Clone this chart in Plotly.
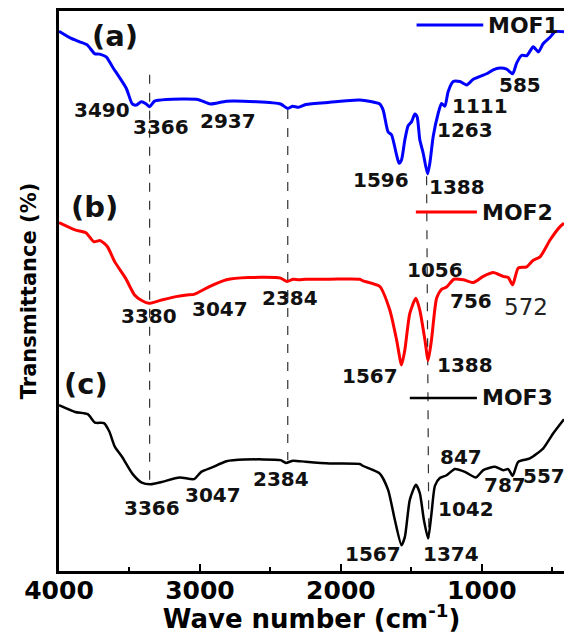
import plotly.graph_objects as go

# ---------------- data ----------------
mof1_wn = [4000, 3913, 3854, 3798, 3748, 3712, 3665, 3620, 3523, 3480, 3452, 3416, 3381, 3357, 3322,
           3239, 3016, 2927, 2812, 2600, 2428, 2377, 2342, 2300, 2249, 2079, 1866, 1724, 1700, 1665,
           1641, 1605, 1587, 1570, 1546, 1523, 1499, 1475, 1459, 1440, 1416, 1385, 1369, 1345, 1310,
           1286, 1262, 1239, 1203, 1156, 1108, 1061, 966, 919, 871, 824, 781, 753, 717, 682, 635,
           599, 564, 516, 481, 417]
mof1_t = [96.4, 95.1, 94.5, 93.9, 92.4, 92.3, 91.8, 90.0, 86.2, 83.4, 83.2, 83.8, 83.4, 82.9, 83.9,
          84.2, 84.2, 83.4, 83.9, 83.8, 83.4, 82.6, 83.0, 82.8, 83.3, 83.7, 84.1, 83.4, 82.3, 78.4,
          77.9, 74.3, 72.8, 73.4, 77.0, 79.5, 80.2, 81.6, 81.1, 77.0, 74.6, 70.9, 72.8, 77.6, 81.7,
          83.5, 83.0, 85.6, 87.4, 87.4, 86.8, 87.8, 88.8, 89.5, 89.8, 89.6, 88.8, 90.7, 92.1, 92.0, 93.6,
          92.7, 94.2, 95.3, 96.3, 96.3]

mof2_wn = [4000, 3886, 3809, 3753, 3707, 3656, 3604, 3528, 3464, 3413, 3362, 3272, 3170, 3093, 3042,
           2940, 2812, 2658, 2428, 2382, 2339, 2300, 2249, 2079, 1866, 1842, 1724, 1653, 1605, 1570,
           1546, 1511, 1468, 1440, 1404, 1381, 1357, 1321, 1286, 1250, 1198, 1132, 1061, 990, 919,
           848, 813, 781, 742, 682, 635, 587, 516, 445, 417]
mof2_t = [62.2, 60.9, 60.4, 58.8, 59.0, 57.9, 55.2, 52.3, 49.3, 48.3, 47.8, 48.4, 49.0, 49.3, 49.4,
          50.7, 52.0, 52.4, 52.3, 51.7, 52.1, 52.0, 52.1, 52.1, 52.1, 51.8, 50.8, 46.6, 41.3, 36.8,
          39.5, 46.0, 48.7, 46.6, 41.3, 37.6, 41.3, 48.7, 50.3, 50.7, 52.1, 52.0, 51.5, 52.6, 53.3,
          52.6, 52.4, 51.1, 54.1, 54.3, 55.5, 56.1, 59.1, 61.5, 62.1]

mof3_wn = [4000, 3886, 3796, 3745, 3681, 3643, 3604, 3553, 3477, 3413, 3349, 3272, 3144, 3042, 2991,
           2914, 2812, 2684, 2428, 2390, 2339, 2249, 2079, 1866, 1842, 1724, 1665, 1617, 1570, 1546,
           1511, 1468, 1440, 1411, 1381, 1357, 1333, 1298, 1250, 1191, 1120, 1042, 990, 907, 848,
           813, 781, 742, 659, 564, 493, 417]
mof3_t = [29.6, 28.4, 28.0, 26.5, 26.4, 24.9, 22.2, 20.4, 17.3, 15.8, 15.5, 15.9, 16.7, 16.4, 17.7,
          18.5, 19.6, 19.9, 19.8, 19.3, 19.7, 19.5, 19.2, 19.1, 18.75, 17.4, 14.5, 9.1, 4.6, 6.1,
          12.7, 15.4, 13.9, 9.1, 5.8, 10.3, 15.2, 16.6, 17.1, 18.2, 17.7, 16.7, 18.0, 18.6, 18.0,
          18.2, 17.0, 19.5, 20.1, 21.9, 24.6, 27.1]

series_names = ["MOF1", "MOF2", "MOF3"]
series_colors = ["#0000ff", "#ff0000", "#000000"]
series_widths = [3, 3, 2.5]

# peak labels: (text, wavenumber position, transmittance position)
peak_text = ["3490", "3366", "2937", "1596", "1388", "1263", "1111", "585",
             "3380", "3047", "2384", "1056", "756", "1567", "1388",
             "3366", "3047", "2384", "847", "787", "557", "1042", "1567", "1374"]
peak_x = [3695, 3279, 2800, 1713, 1179, 1120, 1014, 726,
          3364, 2860, 2359, 1333, 1074, 1795, 1120,
          3343, 2910, 2423, 1145, 838, 560, 1112, 1770, 1220]
peak_y = [82.3, 79.3, 80.4, 69.9, 68.5, 78.75, 83.0, 86.7,
          45.5, 46.7, 48.8, 53.75, 48.3, 34.9, 36.7,
          11.3, 13.5, 16.5, 20.4, 15.3, 16.9, 11.0, 3.1, 3.1]
# the one label drawn in a regular (non-bold) face
light_text = "572"
light_x, light_y = 687, 47.2

panel_text = ["(a)", "(b)", "(c)"]
panel_x = [3606, 3748, 3805]
panel_y = [95.5, 65.0, 33.4]

# dashed guide lines: (x top, y top, x bottom, y bottom)
guide_x0 = [3357, 2377, 1392]
guide_y0 = [88.6, 82.3, 70.5]
guide_x1 = [3357, 2377, 1376]
guide_y1 = [15.5, 19.8, 5.9]

# legend sample placement (wavenumber start/end of sample line, height)
leg_x0 = [1463, 1468, 1511]
leg_x1 = [990, 1035, 1035]
leg_y = [97.5, 64.1, 30.9]

x_ticks = [4000, 3000, 2000, 1000]
x_minor = [3500, 2500, 1500, 500]

FONT = "DejaVu Sans"

fig = go.Figure()
for wn, t, name, col, w in zip([mof1_wn, mof2_wn, mof3_wn], [mof1_t, mof2_t, mof3_t],
                              series_names, series_colors, series_widths):
    fig.add_trace(go.Scatter(x=wn, y=t, mode="lines", name=name,
                             line=dict(color=col, width=w, shape="spline", smoothing=0.6),
                             showlegend=False))

shapes = []
for x0, y0, x1, y1 in zip(guide_x0, guide_y0, guide_x1, guide_y1):
    shapes.append(dict(type="line", xref="x", yref="y", x0=x0, y0=y0, x1=x1, y1=y1,
                       line=dict(color="#333333", width=1.2, dash="dash"), layer="below"))
for x0, x1, y, col, w in zip(leg_x0, leg_x1, leg_y, series_colors, series_widths):
    shapes.append(dict(type="line", xref="x", yref="y", x0=x0, y0=y, x1=x1, y1=y,
                       line=dict(color=col, width=w)))

annotations = []
for txt, x, y in zip(peak_text, peak_x, peak_y):
    annotations.append(dict(text=txt, x=x, y=y, xref="x", yref="y", showarrow=False,
                            xanchor="center", yanchor="middle",
                            font=dict(family=FONT, size=20, color="#111111", weight="bold")))
annotations.append(dict(text=light_text, x=light_x, y=light_y, xref="x", yref="y", showarrow=False,
                        xanchor="center", yanchor="middle",
                        font=dict(family=FONT, size=23, color="#222222")))
for txt, x, y in zip(panel_text, panel_x, panel_y):
    annotations.append(dict(text=txt, x=x, y=y, xref="x", yref="y", showarrow=False,
                            xanchor="center", yanchor="middle",
                            font=dict(family=FONT, size=29, color="#111111", weight="bold")))
for name, x1, y in zip(series_names, leg_x1, leg_y):
    annotations.append(dict(text=name, x=x1, y=y, xref="x", yref="y", showarrow=False,
                            xanchor="left", yanchor="middle", xshift=3,
                            font=dict(family=FONT, size=22, color="#111111", weight="bold")))

fig.update_layout(
    width=564, height=634,
    margin=dict(l=59, r=0, t=11, b=63, autoexpand=False),
    paper_bgcolor="white", plot_bgcolor="white",
    shapes=shapes, annotations=annotations,
    showlegend=False,
    xaxis=dict(range=[4000, 417], tickvals=x_ticks, ticktext=[str(v) for v in x_ticks],
               ticks="inside", ticklen=7, tickwidth=2, tickcolor="black",
               ticklabelstandoff=-5,
               minor=dict(tickvals=x_minor, ticks="inside", ticklen=4, tickwidth=2, tickcolor="black"),
               showline=True, linewidth=2.5, linecolor="black", mirror=True,
               showgrid=False, zeroline=False, automargin=False,
               tickfont=dict(family=FONT, size=25, color="black", weight="bold"),
               title=dict(text="Wave number (cm<sup>-1</sup>)", standoff=3,
                          font=dict(family=FONT, size=26, color="black", weight="bold"))),
    yaxis=dict(range=[0, 100], showticklabels=False, ticks="",
               showline=True, linewidth=2.5, linecolor="black", mirror=False,
               showgrid=False, zeroline=False, automargin=False,
               title=dict(text="Transmittance (%)", standoff=14,
                          font=dict(family=FONT, size=21, color="black", weight="bold"))),
)

fig.write_html("out.html", config={"displayModeBar": False},
               post_script="document.body.style.margin='0';document.body.style.overflow='hidden';")
